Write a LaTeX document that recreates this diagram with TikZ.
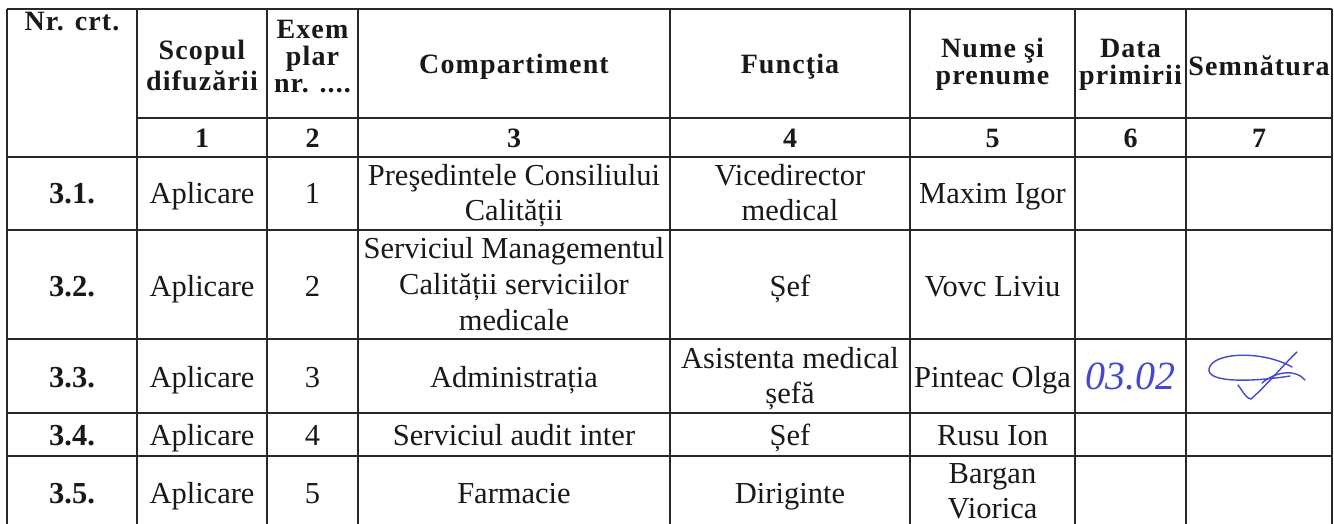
\documentclass[tikz,border=0pt]{standalone}
\usepackage{fontspec}
\setmainfont{Liberation Serif}
\newfontfamily\hdrfam[LetterSpace=4]{Liberation Serif}
\newcommand\hdrf{\hdrfam\bfseries\fontsize{28}{27}\selectfont}
\newcommand\bodyf{\fontsize{30.5}{35}\selectfont}
\newcommand\bodytri{\fontsize{30.5}{36}\selectfont}
\newcommand\inkf{\itshape\fontsize{40}{44}\selectfont}
\definecolor{ink}{RGB}{70,72,205}
\definecolor{rule}{RGB}{40,40,40}
\begin{document}
\begin{tikzpicture}[x=1pt,y=-1pt,
  grid/.style={line width=1.8pt, draw=rule},
  hdr/.style={font=\hdrf, inner sep=0pt, align=center, anchor=base, text=black!90},
  cell/.style={font=\bodyf, inner sep=0pt, align=center, anchor=base, text=black!90},
  bcell/.style={cell, font=\bodyf\bfseries},
  inkpen/.style={draw=ink, line width=1.4pt, line cap=round, line join=round}]
\useasboundingbox[fill=white] (0,0) rectangle (1334,524);
% grid lines
\foreach \yy in {9,157,230,339,413,456} \draw[grid] (7,\yy) -- (1332,\yy);
\draw[grid] (137,118) -- (1332,118);
\foreach \xx in {7,137,267,358,670,910,1075,1186,1332} \draw[grid] (\xx,9) -- (\xx,524);
% header (multi-line nodes: base = baseline of last line)
\node[hdr] (hnr) at (72,31) {Nr. crt.};
\node[hdr] (hscop) at (202,91) {Scopul\\[4pt]difuzării};
\node[hdr] (hex) at (312.5,93) {Exem\\plar\\nr. ....};
\node[hdr] (hcomp) at (514,73.5) {Compartiment};
\node[hdr] (hfunc) at (790,74) {Funcţia};
\node[hdr] (hnume) at (992.5,85) {Nume şi\\prenume};
\node[hdr] (hdata) at (1130.5,85) {Data\\primirii};
\node[hdr] (hsemn) at (1259,76) {Semnătura};
% column numbers
\node[hdr] (n1) at (202,148) {1};
\node[hdr] (n2) at (312.5,148) {2};
\node[hdr] (n3) at (514,148) {3};
\node[hdr] (n4) at (790,148) {4};
\node[hdr] (n5) at (992.5,148) {5};
\node[hdr] (n6) at (1130.5,148) {6};
\node[hdr] (n7) at (1259,148) {7};
% row 3.1
\node[bcell] (r1n) at (72,204) {3.1.};
\node[cell] (r1s) at (202,204) {Aplicare};
\node[cell] (r1e) at (312.5,204) {1};
\node[cell] (r1c) at (514,220) {Preşedintele Consiliului\\Calității};
\node[cell] (r1f) at (790,220) {Vicedirector\\medical};
\node[cell] (r1p) at (992.5,204) {Maxim Igor};
% row 3.2
\node[bcell] (r2n) at (72,296) {3.2.};
\node[cell] (r2s) at (202,296) {Aplicare};
\node[cell] (r2e) at (312.5,296) {2};
\node[cell, font=\bodytri] (r2c) at (514,330) {Serviciul Managementul\\Calității serviciilor\\medicale};
\node[cell] (r2f) at (790,296) {Șef};
\node[cell] (r2p) at (992.5,296) {Vovc Liviu};
% row 3.3
\node[bcell] (r3n) at (72,387) {3.3.};
\node[cell] (r3s) at (202,387) {Aplicare};
\node[cell] (r3e) at (312.5,387) {3};
\node[cell] (r3c) at (514,387) {Administrația};
\node[cell] (r3f) at (790,403) {Asistenta medical\\șefă};
\node[cell] (r3p) at (992.5,387) {Pinteac Olga};
\node[cell, font=\inkf, text=ink] (r3d) at (1130,389) {03.02};
% signature
\draw[inkpen] (1292,367) .. controls (1262,350) and (1212,352) .. (1209,369)
   .. controls (1207,383) and (1252,382) .. (1290,376);
\draw[inkpen] (1238,385) .. controls (1243,392) and (1247,399) .. (1251,399)
   .. controls (1266,386) and (1286,362) .. (1297,352);
\draw[inkpen] (1262,383) .. controls (1276,371) and (1296,369) .. (1305,380);
% row 3.4
\node[bcell] (r4n) at (72,445) {3.4.};
\node[cell] (r4s) at (202,445) {Aplicare};
\node[cell] (r4e) at (312.5,445) {4};
\node[cell] (r4c) at (514,445) {Serviciul audit inter};
\node[cell] (r4f) at (790,445) {Șef};
\node[cell] (r4p) at (992.5,445) {Rusu Ion};
% row 3.5
\node[bcell] (r5n) at (72,503) {3.5.};
\node[cell] (r5s) at (202,503) {Aplicare};
\node[cell] (r5e) at (312.5,503) {5};
\node[cell] (r5c) at (514,503) {Farmacie};
\node[cell] (r5f) at (790,503) {Diriginte};
\node[cell] (r5p) at (992.5,518) {Bargan\\Viorica};
\end{tikzpicture}
\end{document}
